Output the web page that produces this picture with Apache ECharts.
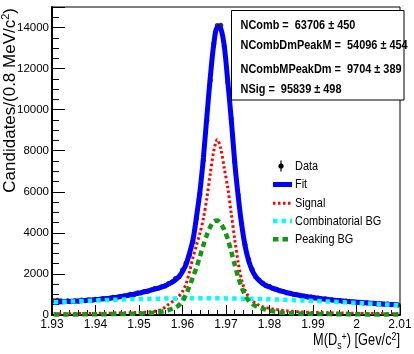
<!DOCTYPE html>
<html><head><meta charset="utf-8">
<script src="https://cdn.jsdelivr.net/npm/echarts@6/dist/echarts.min.js"></script>
<style>html,body{margin:0;padding:0;background:#fff}#c{width:414px;height:354px}</style>
</head><body><div id="c"></div>
<script>
// 100 bins of 0.8 MeV between 1.93 and 2.01 GeV (bin centres)
const massBins = Array.from({length: 100}, (_, i) => +(1.9304 + 0.0008 * i).toFixed(4));

const dataCounts = [
 690,720,700,655,690,640,700,672,730,690,
 745,720,770,748,800,790,812,860,848,905,
 925,940,1005,990,1070,1075,1150,1160,1235,1290,
 1300,1380,1410,1540,1610,1780,1865,2190,2520,2920,
 3567,4705,5890,7540,9490,11435,13220,14100,14110,13060,
 11350,9570,7460,5840,4462,3420,2700,2230,1860,1700,
 1560,1420,1390,1285,1260,1170,1150,1075,1060,1000,
 990,930,925,875,880,825,830,780,790,745,
 740,700,712,670,680,640,648,615,620,590,
 600,565,570,540,552,520,535,505,515,490];

const fitValues = [
 625,632,640,648,656,665,674,684,695,707,
 720,734,749,765,782,800,820,842,866,892,
 920,950,982,1015,1050,1087,1126,1167,1210,1256,
 1305,1360,1425,1505,1600,1715,1870,2120,2450,3000,
 3650,4750,6000,7650,9650,11600,13200,14000,13950,13100,
 11400,9550,7450,5800,4400,3350,2650,2180,1880,1680,
 1540,1440,1365,1300,1240,1185,1135,1090,1050,1013,
 978,946,916,888,862,838,815,793,772,752,
 733,715,698,682,666,651,637,623,610,597,
 585,573,562,551,541,531,522,513,504,496];

const signalValues = [
 60,61,62,63,64,65,67,68,70,72,
 74,76,78,80,82,85,88,91,94,98,
 102,106,110,115,120,127,135,145,160,180,
 220,280,380,520,640,770,920,1150,1500,2100,
 2800,3400,3975,4700,5700,6900,8000,8550,8100,7150,
 6200,4950,3700,2550,1700,1200,900,700,570,470,
 400,360,320,290,265,240,220,200,185,170,
 158,150,142,136,130,125,120,116,112,108,
 104,101,98,95,92,89,86,83,80,78,
 76,74,72,70,68,66,64,62,61,60];

const combValues = [
 620,628,636,644,652,660,667,674,681,688,
 695,701,707,713,719,725,731,737,742,747,
 752,757,762,767,771,775,779,783,787,790,
 793,796,799,802,804,806,808,810,811,812,
 813,814,814,814,814,814,813,812,811,810,
 808,806,803,800,797,794,790,786,782,778,
 774,769,764,759,754,748,742,736,730,724,
 718,711,704,697,690,683,676,668,660,652,
 644,636,628,620,612,604,596,587,578,569,
 560,551,542,533,524,515,506,497,488,479];

const peakingValues = [
 25,25,26,26,27,28,29,30,31,32,
 34,35,36,38,39,41,43,45,47,50,
 53,56,60,64,68,74,80,90,102,118,
 140,165,200,245,300,370,480,680,1000,1400,
 1850,2300,2850,3400,3900,4300,4560,4600,4450,4150,
 3700,3100,2450,1850,1350,960,700,540,440,370,
 310,260,215,180,150,125,108,95,85,77,
 70,66,62,58,55,52,50,48,46,44,
 42,40,38,37,36,35,34,33,32,31,
 30,29,28,27,26,25,24,23,22,21];

const legendNames = ['Data', 'Fit', 'Signal', 'Combinatorial BG', 'Peaking BG'];
const statLines = ['NComb =  63706 \u00b1 450', 'NCombDmPeakM =  54096 \u00b1 454',
                   'NCombMPeakDm =  9704 \u00b1 389', 'NSig =  95839 \u00b1 498'];
const xTitle = 'M(D{s|s}{p|+}) [Gev/c{p|2}]';
const yTitle = 'Candidates/(0.8 MeV/c{p|2})';

const FONT = "'Liberation Sans', Arial, Helvetica, sans-serif";
const pair = arr => massBins.map((x, i) => [x, arr[i]]);

const colors = {fit: '#0000ff', sig: '#ff0000', comb: '#00ffff', peak: '#119911'};

const chart = echarts.init(document.getElementById('c'), null, {renderer: 'canvas'});

const legendY = [166, 184.5, 203.3, 221, 239.3];
const legendGraphics = [];
legendGraphics.push({type: 'line', shape: {x1: 281, y1: 160.5, x2: 281, y2: 171.5}, style: {stroke: '#000', lineWidth: 1.2}, z: 200});
legendGraphics.push({type: 'circle', shape: {cx: 281, cy: legendY[0], r: 2.6}, style: {fill: '#000'}, z: 200});
legendGraphics.push({type: 'line', shape: {x1: 273, y1: legendY[1], x2: 292, y2: legendY[1]}, style: {stroke: colors.fit, lineWidth: 5}, z: 200});
legendGraphics.push({type: 'line', shape: {x1: 273, y1: legendY[2], x2: 292, y2: legendY[2]}, style: {stroke: colors.sig, lineWidth: 3, lineDash: [2.5, 2.5]}, z: 200});
legendGraphics.push({type: 'line', shape: {x1: 273, y1: legendY[3], x2: 292, y2: legendY[3]}, style: {stroke: colors.comb, lineWidth: 4.5, lineDash: [4.5, 4]}, z: 200});
legendGraphics.push({type: 'line', shape: {x1: 273, y1: legendY[4], x2: 292, y2: legendY[4]}, style: {stroke: colors.peak, lineWidth: 4.5, lineDash: [5.5, 4]}, z: 200});
legendNames.forEach((n, i) => {
  legendGraphics.push({type: 'text', x: 295, y: legendY[i], scaleX: 0.84,
    style: {text: n, fill: '#000', font: '13px ' + FONT, textVerticalAlign: 'middle', textAlign: 'left'}, z: 200});
});

const statY = [25, 45.7, 69, 89.3];
const statGraphics = [{type: 'rect', shape: {x: 231.5, y: 10.5, width: 172.5, height: 89.5}, style: {fill: '#fff', stroke: '#000', lineWidth: 1}, z: 150}];
statLines.forEach((t, i) => {
  statGraphics.push({type: 'text', x: 240.5, y: statY[i], scaleX: 0.84,
    style: {text: t, fill: '#000', font: 'bold 13px ' + FONT, textVerticalAlign: 'middle', textAlign: 'left'}, z: 160});
});

const supSub = {
  s: {fontSize: 11, fontFamily: FONT, fill: '#000', color: '#000', padding: [9, 0, 0, 0]},
  p: {fontSize: 11, fontFamily: FONT, fill: '#000', color: '#000', padding: [0, 0, 8, 0]}
};
const titleGraphics = [
  {type: 'text', x: 400, y: 341, scaleX: 0.8,
   style: {text: xTitle, fill: '#000', font: '16px ' + FONT, textAlign: 'right', textVerticalAlign: 'middle', rich: supSub}, z: 200},
  {type: 'text', x: 10, y: 8, rotation: Math.PI / 2, scaleX: 1.0,
   style: {text: yTitle, fill: '#000', font: '17px ' + FONT, textAlign: 'right', textVerticalAlign: 'middle', rich: supSub}, z: 200}
];

chart.setOption({
  animation: false,
  backgroundColor: '#fff',
  grid: {left: 52, right: 14, top: 7, bottom: 39, containLabel: false, outerBoundsMode: 'none',
         show: true, borderColor: '#000', borderWidth: 1, backgroundColor: 'transparent'},
  xAxis: {
    type: 'value', min: 1.93, max: 2.01, interval: 0.01,
    axisLine: {show: true, onZero: false, lineStyle: {color: '#000', width: 2}},
    axisTick: {show: true, inside: true, length: 10, lineStyle: {color: '#000', width: 1}},
    minorTick: {show: true, splitNumber: 5, length: 5, lineStyle: {color: '#000', width: 1}},
    axisLabel: {color: '#000', fontSize: 12, fontFamily: FONT, margin: 4,
      formatter: v => String(+v.toFixed(2))},
    splitLine: {show: false}
  },
  yAxis: {
    type: 'value', min: 0, max: 15000, interval: 2000,
    axisLine: {show: true, onZero: false, lineStyle: {color: '#000', width: 2}},
    axisTick: {show: true, inside: true, length: 13, lineStyle: {color: '#000', width: 1}},
    minorTick: {show: true, splitNumber: 4, length: 7, lineStyle: {color: '#000', width: 1}},
    axisLabel: {color: '#000', fontSize: 11.5, fontFamily: FONT, margin: 3,
      formatter: v => (v % 2000 === 0 ? String(v) : '')},
    splitLine: {show: false}
  },
  series: [
    {name: 'Data', type: 'scatter', data: pair(dataCounts), symbol: 'circle', symbolSize: 5,
     itemStyle: {color: '#000'}, z: 2},
    {name: 'Fit', type: 'line', data: pair(fitValues), smooth: 0.3, showSymbol: false,
     lineStyle: {color: colors.fit, width: 5}, z: 3},
    {name: 'Signal', type: 'line', data: pair(signalValues), smooth: 0.3, showSymbol: false,
     lineStyle: {color: colors.sig, width: 3, type: [2.5, 2.5]}, z: 4},
    {name: 'Combinatorial BG', type: 'line', data: pair(combValues), smooth: 0.3, showSymbol: false,
     lineStyle: {color: colors.comb, width: 4.5, type: [4.5, 4]}, z: 5},
    {name: 'Peaking BG', type: 'line', data: pair(peakingValues), smooth: 0.3, showSymbol: false,
     lineStyle: {color: colors.peak, width: 4.5, type: [5.5, 4]}, z: 6}
  ],
  graphic: statGraphics.concat(legendGraphics, titleGraphics)
});
</script></body></html>
